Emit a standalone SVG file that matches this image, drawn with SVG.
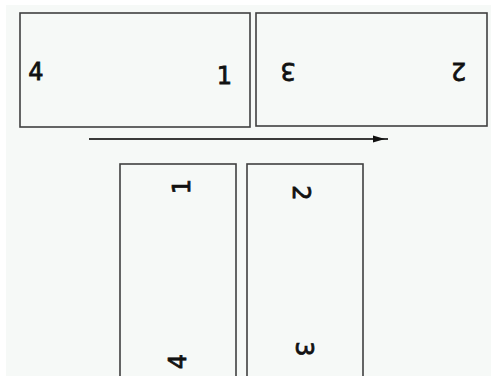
<svg xmlns="http://www.w3.org/2000/svg" width="491" height="376" viewBox="0 0 491 376">
<defs>
<style>
.panel{fill:none;stroke:#404040;stroke-width:1.6}
.num{font-family:"DejaVu Sans",sans-serif;font-size:24px;fill:#111;stroke:#111;stroke-width:0.8;text-anchor:middle}
.conn{stroke:#3a3a3a;stroke-width:2;fill:none}
</style>
<marker id="ah" viewBox="0 0 12 8" refX="12" refY="4" markerWidth="12" markerHeight="8" markerUnits="userSpaceOnUse" orient="auto">
<path d="M0,0.5 L12,4 L0,7.5 Z" fill="#111"/>
</marker>
</defs>
<rect x="0" y="0" width="491" height="376" fill="#ffffff"/>
<rect x="6" y="5" width="485" height="371" fill="#f6f9f7"/>
<g id="top-left">
<rect class="panel" x="20" y="13" width="230" height="114"/>
<text class="num" x="36" y="80">4</text>
<text class="num" x="224.5" y="84">1</text>
</g>
<g id="top-right">
<rect class="panel" x="256" y="13" width="231" height="113"/>
<text class="num" transform="translate(288,71.5) rotate(180)" y="8.7">3</text>
<text class="num" transform="translate(458.5,71.5) rotate(180)" y="8.7">2</text>
</g>
<g id="bottom-left">
<rect class="panel" x="120" y="164" width="116" height="220"/>
<text class="num" transform="translate(181,186.5) rotate(-90)" y="8.7">1</text>
<text class="num" transform="translate(177,361.5) rotate(-90)" y="8.7">4</text>
</g>
<g id="bottom-right">
<rect class="panel" x="247" y="164" width="116" height="220"/>
<text class="num" transform="translate(302,193) rotate(90)" y="8.7">2</text>
<text class="num" transform="translate(304.5,349) rotate(90)" y="8.7">3</text>
</g>
<g id="connectors">
<line class="conn" x1="89" y1="139" x2="385" y2="139" marker-end="url(#ah)"/>
<line class="conn" x1="385" y1="139" x2="388" y2="139" stroke-width="1.2"/>
</g>
</svg>
